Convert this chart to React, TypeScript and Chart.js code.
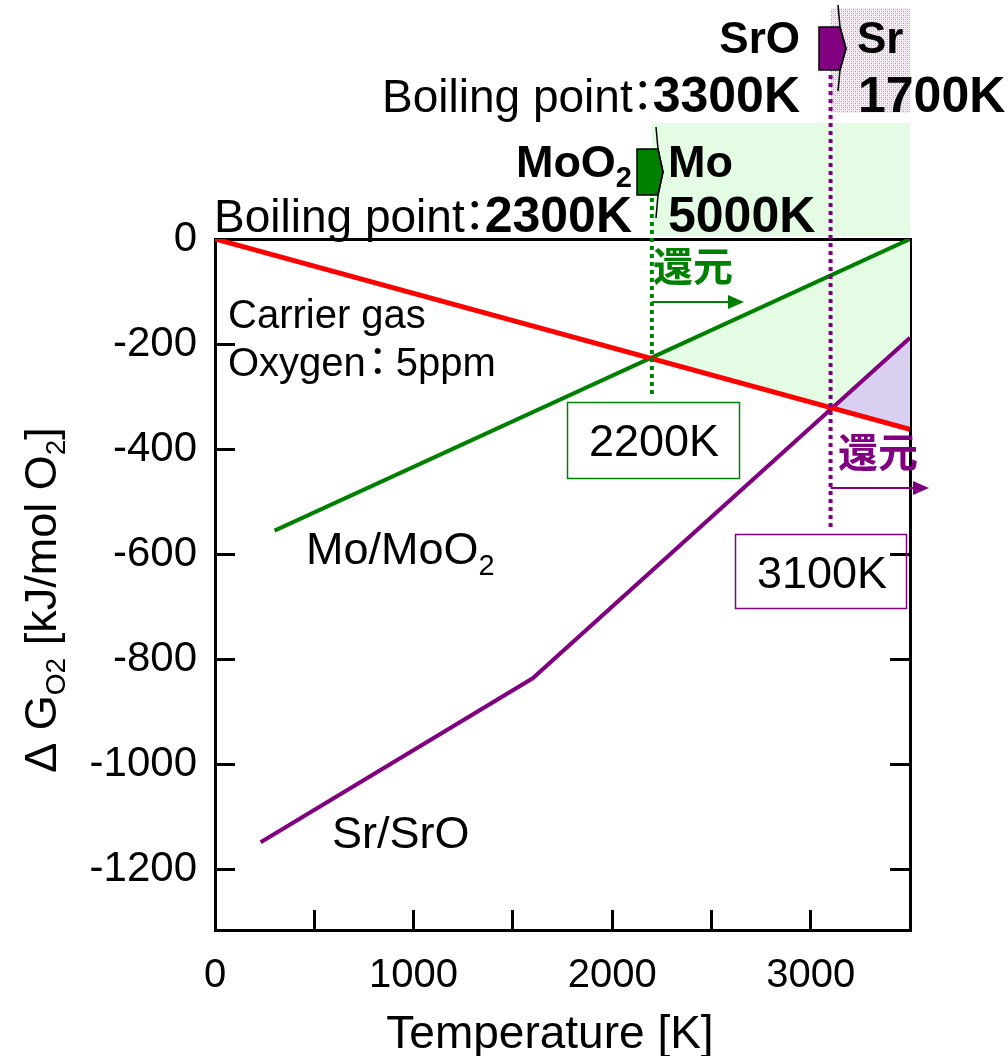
import React, { useEffect, useRef } from 'react';
import { Chart, registerables } from 'chart.js';

Chart.register(...registerables);

// Temperature [K] / ΔG [kJ/mol O2]
const carrierGasT = [0, 3500];
const carrierGasG = [0, -362];
const moT = [300, 3500];
const moG = [-555, 0];
const srT = [230, 1600, 3500];
const srG = [-1148, -836, -188];

// where the carrier-gas line crosses each oxide line
const moReductionT = 2200;
const moReductionG = -227;
const srReductionT = 3100;
const srReductionG = -321;

// axis ticks
const xTickValues = [0, 500, 1000, 1500, 2000, 2500, 3000, 3500];
const xTickLabels = ['0', '', '1000', '', '2000', '', '3000', ''];
const yTickValues = [0, -200, -400, -600, -800, -1000, -1200];
const yTickLabels = ['0', '-200', '-400', '-600', '-800', '-1000', '-1200'];

// boiling points shown in the header
const srOxideBoiling = '3300K';
const srMetalBoiling = '1700K';
const moOxideBoiling = '2300K';
const moMetalBoiling = '5000K';

const GREEN = '#008000';
const PURPLE = '#800080';
const RED = '#ff0000';
const SANS = "'Liberation Sans', Arial, 'Noto Sans CJK JP', sans-serif";
const CJK = "'Noto Sans CJK JP', 'Noto Sans CJK SC', sans-serif";

const pts = (xs: number[], ys: number[]) => xs.map((x, i) => ({ x, y: ys[i] }));

// a run of text; dx/adv let a full-width glyph sit tighter than its em box
type Part = { text: string; font: string; dy?: number; dx?: number; adv?: number };

function drawParts(ctx: CanvasRenderingContext2D, parts: Part[], x: number, y: number, align: 'left' | 'right' | 'center') {
  const widths = parts.map((p) => {
    ctx.font = p.font;
    return p.adv ?? ctx.measureText(p.text).width;
  });
  const total = widths.reduce((a, b) => a + b, 0);
  let cx = align === 'left' ? x : align === 'right' ? x - total : x - total / 2;
  ctx.textAlign = 'left';
  parts.forEach((p, i) => {
    ctx.font = p.font;
    ctx.fillText(p.text, cx + (p.dx || 0), y + (p.dy || 0));
    cx += widths[i];
  });
}

const colon = (size: number, adv: number, center: number): Part => ({
  text: '：',
  font: `${size}px ${CJK}`,
  dx: center - size / 2,
  adv,
});

function drawFlag(ctx: CanvasRenderingContext2D, l: number, r: number, top: number, bottom: number, tip: number, spikeX: number, spikeTop: number, spikeBottom: number, color: string) {
  const mid = (top + bottom) / 2;
  ctx.save();
  ctx.fillStyle = color;
  ctx.strokeStyle = '#000';
  ctx.lineWidth = 1.5;
  ctx.beginPath();
  ctx.moveTo(l, top);
  ctx.lineTo(r, top);
  ctx.lineTo(tip, mid);
  ctx.lineTo(r, bottom);
  ctx.lineTo(l, bottom);
  ctx.closePath();
  ctx.fill();
  ctx.stroke();
  ctx.beginPath();
  ctx.moveTo(spikeX, spikeTop);
  ctx.lineTo(r, top);
  ctx.lineTo(tip, mid);
  ctx.lineTo(r, bottom);
  ctx.lineTo(spikeX, spikeBottom);
  ctx.stroke();
  ctx.restore();
}

function drawArrow(ctx: CanvasRenderingContext2D, x0: number, x1: number, y: number, color: string) {
  ctx.save();
  ctx.strokeStyle = color;
  ctx.fillStyle = color;
  ctx.lineWidth = 2;
  ctx.beginPath();
  ctx.moveTo(x0, y);
  ctx.lineTo(x1 - 14, y);
  ctx.stroke();
  ctx.beginPath();
  ctx.moveTo(x1, y);
  ctx.lineTo(x1 - 16, y - 7);
  ctx.lineTo(x1 - 16, y + 7);
  ctx.closePath();
  ctx.fill();
  ctx.restore();
}

function dotted(ctx: CanvasRenderingContext2D, x: number, y0: number, y1: number, color: string) {
  ctx.save();
  ctx.strokeStyle = color;
  ctx.lineWidth = 4;
  ctx.setLineDash([4, 4]);
  ctx.beginPath();
  ctx.moveTo(x, y0);
  ctx.lineTo(x, y1);
  ctx.stroke();
  ctx.restore();
}

function makePattern(ctx: CanvasRenderingContext2D) {
  const c = document.createElement('canvas');
  c.width = 4;
  c.height = 4;
  const p = c.getContext('2d')!;
  p.fillStyle = '#f6ecf6';
  p.fillRect(0, 0, 4, 4);
  p.fillStyle = '#c58ec5';
  p.fillRect(1, 1, 1, 1);
  p.fillRect(3, 3, 1, 1);
  p.fillStyle = '#ddb8dd';
  p.fillRect(1, 3, 1, 1);
  p.fillRect(3, 1, 1, 1);
  return ctx.createPattern(c, 'repeat');
}

const overlay = {
  id: 'overlay',
  beforeDatasetsDraw(chart: any) {
    const ctx: CanvasRenderingContext2D = chart.ctx;
    const xs = chart.scales.x;
    const xMo = xs.getPixelForValue(moReductionT);
    const xSr = xs.getPixelForValue(srReductionT);
    const xEnd = xs.getPixelForValue(3500);
    ctx.save();
    ctx.fillStyle = '#e3fce3';
    ctx.fillRect(xMo, 123, xEnd - xMo, 113);
    ctx.fillStyle = makePattern(ctx) || '#ecdcec';
    ctx.fillRect(xSr, 8, xEnd - xSr, 105);
    ctx.restore();
  },
  afterDatasetsDraw(chart: any) {
    const ctx: CanvasRenderingContext2D = chart.ctx;
    const xs = chart.scales.x;
    const xMo = xs.getPixelForValue(moReductionT);
    const xSr = xs.getPixelForValue(srReductionT);

    dotted(ctx, xMo, 198, 398, GREEN);
    dotted(ctx, xSr, 75, 528, PURPLE);

    drawArrow(ctx, xMo, 744, 302, GREEN);
    drawArrow(ctx, xSr, 929, 488, PURPLE);

    ctx.save();
    ctx.textBaseline = 'middle';
    ctx.textAlign = 'left';
    ctx.font = `bold 40px ${CJK}`;
    ctx.fillStyle = GREEN;
    ctx.fillText('還元', 653, 266);
    ctx.fillStyle = PURPLE;
    ctx.fillText('還元', 838, 452);
    ctx.restore();

    // crossing-temperature boxes
    ctx.save();
    ctx.lineWidth = 1.5;
    ctx.strokeStyle = GREEN;
    ctx.strokeRect(567.5, 402.5, 172, 76);
    ctx.strokeStyle = PURPLE;
    ctx.strokeRect(735.5, 534.5, 171, 74);
    ctx.fillStyle = '#000';
    ctx.textBaseline = 'alphabetic';
    ctx.textAlign = 'center';
    ctx.font = `45px ${SANS}`;
    ctx.fillText(`${moReductionT}K`, 654, 456);
    ctx.fillText(`${srReductionT}K`, 822, 588);
    ctx.restore();

    // series / condition labels
    ctx.save();
    ctx.fillStyle = '#000';
    ctx.textBaseline = 'alphabetic';
    drawParts(ctx, [{ text: 'Carrier gas', font: `40px ${SANS}` }], 228, 328, 'left');
    drawParts(ctx, [
      { text: 'Oxygen', font: `40px ${SANS}` },
      colon(40, 30, 12),
      { text: '5ppm', font: `40px ${SANS}` },
    ], 228, 376, 'left');
    drawParts(ctx, [
      { text: 'Mo/MoO', font: `45px ${SANS}` },
      { text: '2', font: `29px ${SANS}`, dy: 11 },
    ], 306, 564, 'left');
    drawParts(ctx, [{ text: 'Sr/SrO', font: `45px ${SANS}` }], 332, 848, 'left');
    ctx.restore();
  },
  afterDraw(chart: any) {
    const ctx: CanvasRenderingContext2D = chart.ctx;
    ctx.save();
    ctx.fillStyle = '#000';
    ctx.textBaseline = 'alphabetic';

    // header: oxide → metal with boiling points
    drawParts(ctx, [{ text: 'SrO', font: `bold 44px ${SANS}` }], 800, 53, 'right');
    drawParts(ctx, [{ text: 'Sr', font: `bold 44px ${SANS}` }], 857, 53, 'left');
    drawParts(ctx, [
      { text: 'Boiling point', font: `46px ${SANS}` },
      colon(44, 20, 10),
      { text: srOxideBoiling, font: `bold 50px ${SANS}` },
    ], 800, 112, 'right');
    drawParts(ctx, [{ text: srMetalBoiling, font: `bold 50px ${SANS}` }], 858, 112, 'left');

    drawParts(ctx, [
      { text: 'MoO', font: `bold 45px ${SANS}` },
      { text: '2', font: `bold 29px ${SANS}`, dy: 10 },
    ], 632, 177, 'right');
    drawParts(ctx, [{ text: 'Mo', font: `bold 45px ${SANS}` }], 668, 177, 'left');
    drawParts(ctx, [
      { text: 'Boiling point', font: `46px ${SANS}` },
      colon(44, 20, 10),
      { text: moOxideBoiling, font: `bold 50px ${SANS}` },
    ], 632, 232, 'right');
    drawParts(ctx, [{ text: moMetalBoiling, font: `bold 50px ${SANS}` }], 668, 232, 'left');

    drawFlag(ctx, 637, 658, 149, 195, 663, 656, 127, 218, GREEN);
    drawFlag(ctx, 819, 840, 27, 70, 846, 838, 5, 91, PURPLE);

    // axis titles
    ctx.font = `46px ${SANS}`;
    ctx.textAlign = 'center';
    ctx.fillText('Temperature [K]', 550, 1048);

    ctx.translate(56, 600);
    ctx.rotate(-Math.PI / 2);
    drawParts(ctx, [
      { text: 'Δ G', font: `45px ${SANS}` },
      { text: 'O2', font: `28px ${SANS}`, dy: 9 },
      { text: ' [kJ/mol O', font: `45px ${SANS}` },
      { text: '2', font: `28px ${SANS}`, dy: 9 },
      { text: ']', font: `45px ${SANS}` },
    ], 0, 0, 'center');
    ctx.restore();
  },
};

const axisBorder = { display: true, width: 3, color: '#000' };

export default function App() {
  const ref = useRef<HTMLCanvasElement>(null);

  useEffect(() => {
    if (!ref.current) return;
    const lastT = carrierGasT[carrierGasT.length - 1];
    const chart = new Chart(ref.current, {
      type: 'line',
      data: {
        datasets: [
          {
            label: 'mo-fill-base',
            data: [{ x: moReductionT, y: moReductionG }, { x: lastT, y: carrierGasG[carrierGasG.length - 1] }],
            borderWidth: 0,
            pointRadius: 0,
            fill: false,
            order: 20,
          },
          {
            label: 'mo-fill',
            data: [{ x: moReductionT, y: moReductionG }, { x: lastT, y: moG[moG.length - 1] }],
            borderWidth: 0,
            pointRadius: 0,
            backgroundColor: '#e3fce3',
            fill: 0,
            order: 19,
          },
          {
            label: 'sr-fill-base',
            data: [{ x: srReductionT, y: srReductionG }, { x: lastT, y: carrierGasG[carrierGasG.length - 1] }],
            borderWidth: 0,
            pointRadius: 0,
            fill: false,
            order: 18,
          },
          {
            label: 'sr-fill',
            data: [{ x: srReductionT, y: srReductionG }, { x: lastT, y: srG[srG.length - 1] }],
            borderWidth: 0,
            pointRadius: 0,
            backgroundColor: '#d9cff0',
            fill: 2,
            order: 17,
          },
          {
            label: 'Sr/SrO',
            data: pts(srT, srG),
            borderColor: PURPLE,
            borderWidth: 4,
            pointRadius: 0,
            fill: false,
            order: 3,
          },
          {
            label: 'Mo/MoO2',
            data: pts(moT, moG),
            borderColor: GREEN,
            borderWidth: 4,
            pointRadius: 0,
            fill: false,
            order: 2,
          },
          {
            label: 'Carrier gas',
            data: pts(carrierGasT, carrierGasG),
            borderColor: RED,
            borderWidth: 5,
            pointRadius: 0,
            fill: false,
            order: 1,
          },
        ],
      },
      options: {
        animation: false,
        responsive: false,
        maintainAspectRatio: false,
        events: [],
        layout: { padding: { left: 0, top: 239, right: 98, bottom: 0 } },
        plugins: { legend: { display: false }, tooltip: { enabled: false } },
        scales: {
          x: {
            type: 'linear',
            position: 'bottom',
            min: 0,
            max: 3500,
            afterBuildTicks: (s: any) => { s.ticks = xTickValues.map((v) => ({ value: v })); },
            afterFit: (s: any) => { s.height = 126; },
            ticks: {
              autoSkip: false,
              maxRotation: 0,
              padding: 42,
              color: '#000',
              font: { family: SANS, size: 40 },
              callback: (v: any) => xTickLabels[xTickValues.indexOf(Number(v))] ?? '',
            },
            grid: { drawOnChartArea: false, drawTicks: true, tickLength: -20, lineWidth: 3, color: '#000', tickColor: '#000' },
            border: axisBorder,
          },
          x2: {
            type: 'linear',
            position: 'top',
            min: 0,
            max: 3500,
            afterFit: (s: any) => { s.height = 0; },
            ticks: { display: false },
            grid: { drawOnChartArea: false, drawTicks: false },
            border: axisBorder,
          },
          y: {
            type: 'linear',
            position: 'left',
            min: -1315,
            max: 0,
            afterBuildTicks: (s: any) => { s.ticks = yTickValues.map((v) => ({ value: v })); },
            afterFit: (s: any) => { s.width = 215; },
            ticks: {
              autoSkip: false,
              padding: 38,
              color: '#000',
              font: { family: SANS, size: 42 },
              callback: (v: any) => yTickLabels[yTickValues.indexOf(Number(v))] ?? '',
            },
            grid: { drawOnChartArea: false, drawTicks: true, tickLength: -20, lineWidth: 3, color: '#000', tickColor: '#000' },
            border: axisBorder,
          },
          y2: {
            type: 'linear',
            position: 'right',
            min: -1315,
            max: 0,
            afterBuildTicks: (s: any) => { s.ticks = yTickValues.map((v) => ({ value: v })); },
            afterFit: (s: any) => { s.width = 0; },
            ticks: { display: false },
            grid: { drawOnChartArea: false, drawTicks: true, tickLength: -20, lineWidth: 3, color: '#000', tickColor: '#000' },
            border: axisBorder,
          },
        },
      },
      plugins: [overlay],
    } as any);
    return () => chart.destroy();
  }, []);

  return (
    <div style={{ position: 'absolute', left: 0, top: 0, width: 1008, height: 1056 }}>
      <canvas ref={ref} width={1008} height={1056} style={{ display: 'block', width: 1008, height: 1056 }} />
    </div>
  );
}
